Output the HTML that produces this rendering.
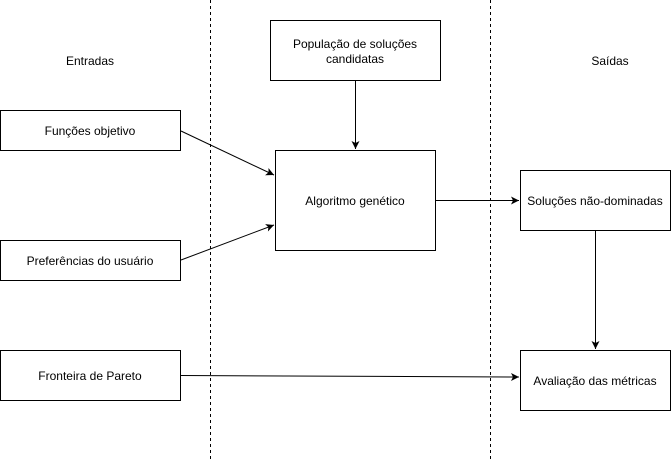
<!DOCTYPE html>
<html><head><meta charset="utf-8"><style>
body{margin:0;background:#fff}
svg text{font-family:"Liberation Sans",sans-serif;font-size:12px;fill:#000}
</style></head><body>
<svg width="671" height="462" xmlns="http://www.w3.org/2000/svg">
<defs><marker id="a" markerWidth="10" markerHeight="10" refX="9" refY="5" orient="auto" markerUnits="userSpaceOnUse"><path d="M1,1 L9,5 L1,9 L3,5 Z" fill="#000"/></marker></defs>
<g stroke="#000" stroke-dasharray="3,3" stroke-width="1">
<line x1="210.5" y1="0" x2="210.5" y2="462"/>
<line x1="490.5" y1="0" x2="490.5" y2="462"/>
</g>
<g fill="#fff" stroke="#000">
<rect x="270.5" y="20.5" width="170" height="60"/>
<rect x="0.5" y="110.5" width="180" height="40"/>
<rect x="0.5" y="240.5" width="180" height="40"/>
<rect x="0.5" y="350.5" width="180" height="50"/>
<rect x="275.5" y="150.5" width="160" height="100"/>
<rect x="520.5" y="170.5" width="150" height="60"/>
<rect x="520.5" y="350.5" width="150" height="60"/>
</g>
<g stroke="#000" fill="none" marker-end="url(#a)">
<line x1="355.5" y1="80" x2="355.5" y2="149"/>
<line x1="181" y1="131" x2="274" y2="175"/>
<line x1="181" y1="260" x2="274" y2="225"/>
<line x1="436" y1="200.5" x2="519" y2="200.5"/>
<line x1="595.5" y1="231" x2="595.5" y2="349"/>
<line x1="181" y1="375.5" x2="519" y2="377"/>
</g>
<g text-anchor="middle">
<text x="90" y="65">Entradas</text>
<text x="610" y="65">Saídas</text>
<text x="355" y="48">População de soluções</text>
<text x="355" y="63">candidatas</text>
<text x="90" y="135">Funções objetivo</text>
<text x="90" y="265">Preferências do usuário</text>
<text x="90" y="380">Fronteira de Pareto</text>
<text x="355" y="205">Algoritmo genético</text>
<text x="595" y="205">Soluções não-dominadas</text>
<text x="595" y="385">Avaliação das métricas</text>
</g>
</svg>
</body></html>
